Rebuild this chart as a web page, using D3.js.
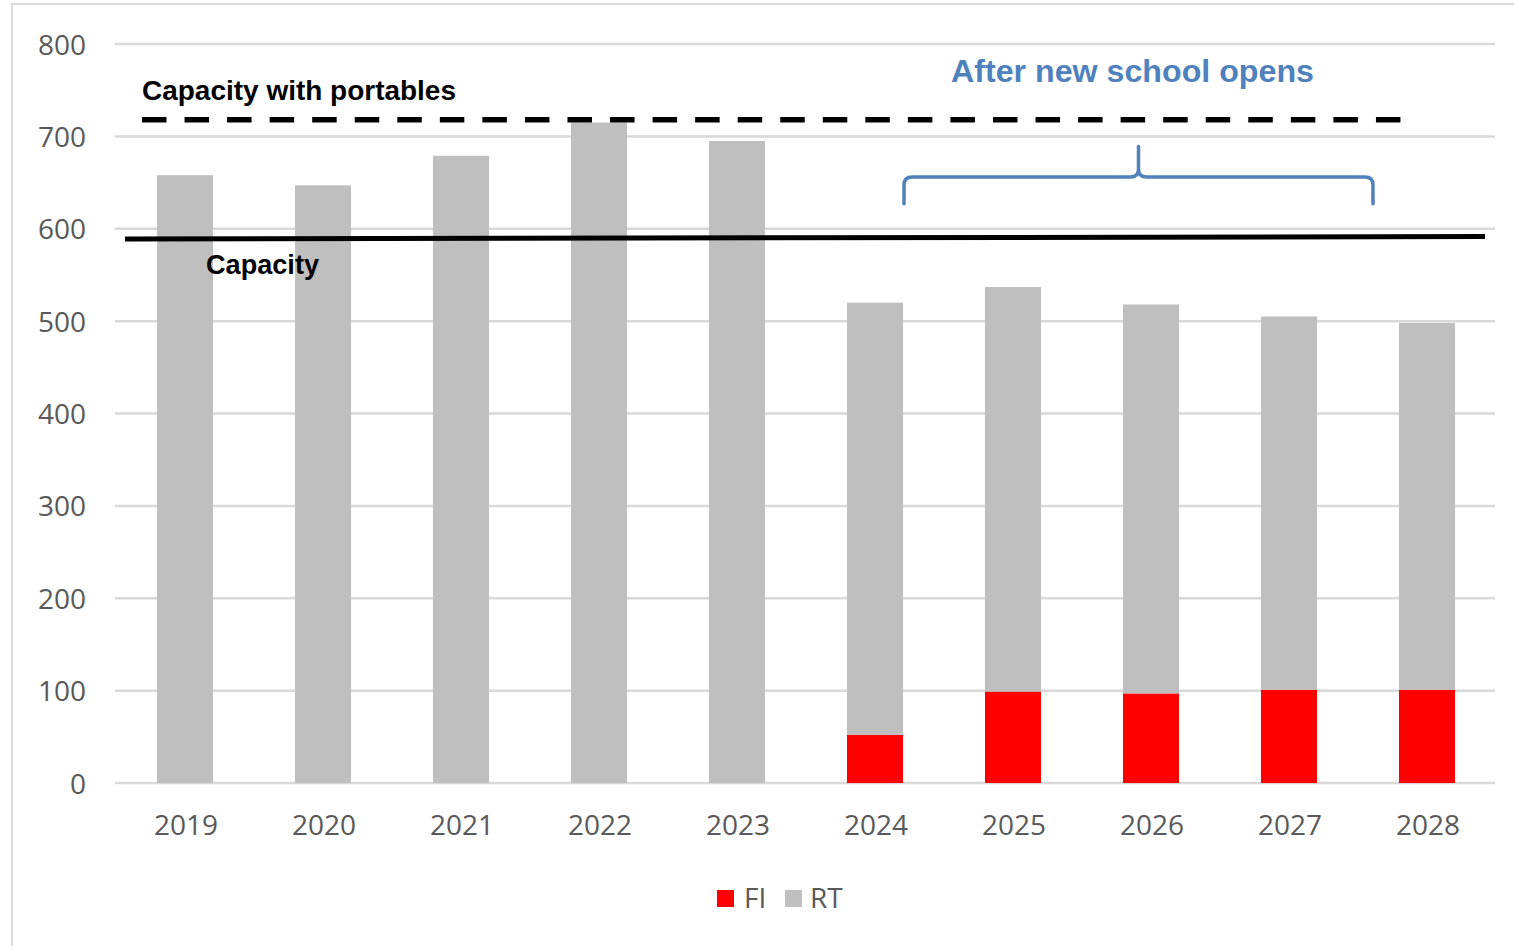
<html>
<head>
<script src="https://d3js.org/d3.v7.min.js"></script>
<style>
body { margin: 0; background: #fff; }
</style>
</head>
<body>
<script type="text/javascript">
// data
var years = ["2019", "2020", "2021", "2022", "2023", "2024", "2025", "2026", "2027", "2028"];
var fiValues = [0, 0, 0, 0, 0, 52, 99, 97, 101, 101];
var rtValues = [658, 647, 679, 715, 695, 468, 438, 421, 404, 397];
var yTicks = [0, 100, 200, 300, 400, 500, 600, 700, 800];
var capacity = [589, 591.5];          // solid line, left end / right end
var capacityPortables = 718;          // dashed line
var legendNames = ["FI", "RT"];
var colors = ["#ff0000", "#bfbfbf"];

var svg = d3.select("body")
    .append("svg")
    .attr("width", 1514)
    .attr("height", 946);

// light frame around the chart area
svg.append("rect")
    .attr("x", 12)
    .attr("y", 4)
    .attr("width", 1540)
    .attr("height", 960)
    .attr("fill", "none")
    .attr("stroke", "#d9d9d9")
    .attr("stroke-width", 2);

var x = d3.scaleBand()
    .domain(years)
    .range([116, 1496])
    .paddingInner(0.594)
    .paddingOuter(0.297);

var y = d3.scaleLinear()
    .domain([0, 800])
    .range([783, 44]);

// gridlines
svg.selectAll(".grid")
    .data(yTicks)
    .enter()
    .append("line")
    .attr("x1", 115)
    .attr("x2", 1495)
    .attr("y1", function(d) { return y(d); })
    .attr("y2", function(d) { return y(d); })
    .attr("stroke", "#d9d9d9")
    .attr("stroke-width", 2.5);

// y axis labels
var yAxis = d3.axisLeft(y).tickValues(yTicks).tickSize(0).tickPadding(0);
var yG = svg.append("g")
    .attr("transform", "translate(86,0)")
    .call(yAxis);
yG.select(".domain").remove();
yG.selectAll("text")
    .attr("dy", "0.36em")
    .style("font-size", "28px")
    .style("font-family", "'Open Sans'")
    .style("fill", "#595959");

// x axis labels
var xAxis = d3.axisBottom(x).tickSize(0).tickPadding(0);
var xG = svg.append("g")
    .attr("transform", "translate(1,815)")
    .call(xAxis);
xG.select(".domain").remove();
xG.selectAll("text")
    .attr("dy", "0.71em")
    .style("font-size", "28px")
    .style("font-family", "'Open Sans'")
    .style("fill", "#595959");

// stacked bars: FI at the bottom, RT on top
var rows = years.map(function(yr, i) {
    return { year: yr, FI: fiValues[i], RT: rtValues[i] };
});
var stacked = d3.stack().keys(legendNames)(rows);

svg.selectAll(".series")
    .data(stacked)
    .enter()
    .append("g")
    .attr("fill", function(d, i) { return colors[i]; })
    .selectAll("rect")
    .data(function(d) { return d; })
    .enter()
    .append("rect")
    .attr("x", function(d) { return x(d.data.year); })
    .attr("width", x.bandwidth())
    .attr("y", function(d) { return y(d[1]); })
    .attr("height", function(d) { return y(d[0]) - y(d[1]); });

// capacity with portables (dashed)
svg.append("line")
    .attr("x1", x(years[0]) - 15)
    .attr("x2", x(years[years.length - 1]) + 2)
    .attr("y1", y(capacityPortables))
    .attr("y2", y(capacityPortables))
    .attr("stroke", "#000")
    .attr("stroke-width", 5.5)
    .attr("stroke-dasharray", "24.5,18.05");

// capacity (solid)
svg.append("line")
    .attr("x1", x.range()[0] + 9)
    .attr("x2", x.range()[1] - 11)
    .attr("y1", y(capacity[0]))
    .attr("y2", y(capacity[1]))
    .attr("stroke", "#000")
    .attr("stroke-width", 5);

// labels
svg.append("text")
    .attr("x", 142)
    .attr("y", 100)
    .attr("textLength", 314)
    .attr("lengthAdjust", "spacingAndGlyphs")
    .style("font-size", "27px")
    .style("font-weight", "bold")
    .style("font-family", "'Liberation Sans'")
    .style("fill", "#000")
    .text("Capacity with portables");

svg.append("text")
    .attr("x", 206)
    .attr("y", 274)
    .attr("textLength", 113)
    .attr("lengthAdjust", "spacingAndGlyphs")
    .style("font-size", "27px")
    .style("font-weight", "bold")
    .style("font-family", "'Liberation Sans'")
    .style("fill", "#000")
    .text("Capacity");

svg.append("text")
    .attr("x", 951)
    .attr("y", 82)
    .attr("textLength", 363)
    .attr("lengthAdjust", "spacingAndGlyphs")
    .style("font-size", "31px")
    .style("font-weight", "bold")
    .style("font-family", "'Liberation Sans'")
    .style("fill", "#4f81bd")
    .text("After new school opens");

// curly brace over 2024-2028
var bl = x("2024") + x.bandwidth() + 1;
var br = x("2028") - 26;
var bm = (bl + br) / 2;
var yEnd = y(627), yH = y(656), yTip = y(689);
var r = 8;
var bracePath = "M" + bl + "," + yEnd +
    " L" + bl + "," + (yH + r) +
    " Q" + bl + "," + yH + " " + (bl + r) + "," + yH +
    " L" + (bm - r) + "," + yH +
    " Q" + bm + "," + yH + " " + bm + "," + (yH - r) +
    " L" + bm + "," + yTip +
    " M" + bm + "," + (yH - r) +
    " Q" + bm + "," + yH + " " + (bm + r) + "," + yH +
    " L" + (br - r) + "," + yH +
    " Q" + br + "," + yH + " " + br + "," + (yH + r) +
    " L" + br + "," + yEnd;

svg.append("path")
    .attr("d", bracePath)
    .attr("fill", "none")
    .attr("stroke", "#4f81bd")
    .attr("stroke-width", 3.5)
    .attr("stroke-linecap", "round");

// legend
var legendX = [717, 785];
var legend = svg.selectAll(".legend")
    .data(legendNames)
    .enter()
    .append("g")
    .attr("transform", function(d, i) { return "translate(" + legendX[i] + ",890)"; });

legend.append("rect")
    .attr("width", 17)
    .attr("height", 17)
    .attr("fill", function(d, i) { return colors[i]; });

legend.append("text")
    .attr("x", function(d, i) { return i == 0 ? 27 : 25; })
    .attr("y", 18)
    .style("font-size", "28px")
    .style("font-family", "'Open Sans'")
    .style("fill", "#595959")
    .text(function(d) { return d; });
</script>
</body>
</html>
